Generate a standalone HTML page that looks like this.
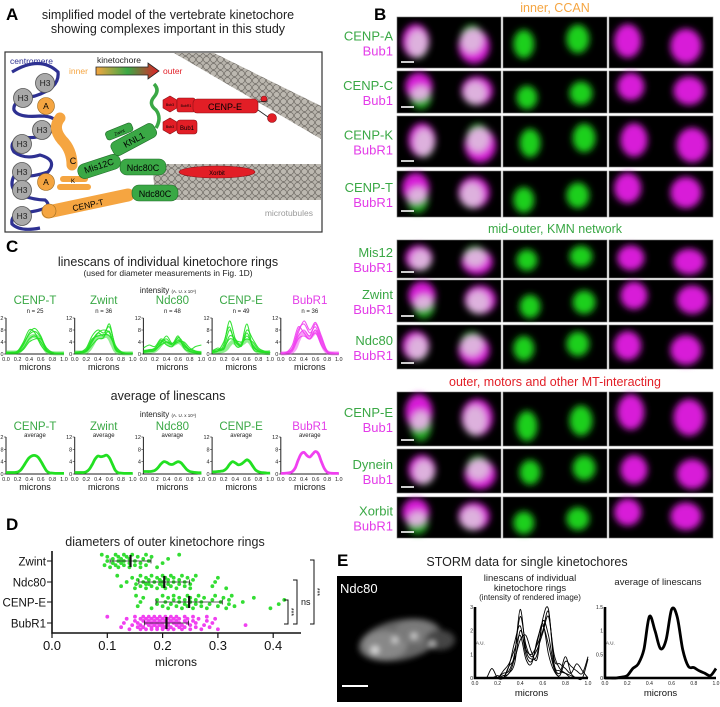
<!DOCTYPE html>
<html><head><meta charset="utf-8">
<style>
html,body{margin:0;padding:0;background:#fff;}
body{width:720px;height:702px;overflow:hidden;font-family:"Liberation Sans",sans-serif;}
svg text{font-family:"Liberation Sans",sans-serif;}
</style></head>
<body>
<svg id="fig" width="720" height="702" viewBox="0 0 720 702" xmlns="http://www.w3.org/2000/svg">
<defs>
  <filter id="blur4" x="-50%" y="-50%" width="200%" height="200%"><feGaussianBlur stdDeviation="3.5"/></filter>
  <filter id="blur3" x="-50%" y="-50%" width="200%" height="200%"><feGaussianBlur stdDeviation="3"/></filter>
  <pattern id="mt" width="7" height="7" patternUnits="userSpaceOnUse">
    <rect width="7" height="7" fill="#b8b4ac"/>
    <circle cx="3.5" cy="3.5" r="3" fill="#bcb8b0" stroke="#6e6a64" stroke-width="0.7"/>
  </pattern>
  <linearGradient id="kgrad" x1="0" x2="1">
    <stop offset="0" stop-color="#f5a541"/><stop offset="0.5" stop-color="#3aa845"/><stop offset="1" stop-color="#e21e26"/>
  </linearGradient>
</defs>

<g>
  <text x="6" y="20" font-size="17" font-weight="bold">A</text>
  <text x="168" y="19" font-size="12.5" text-anchor="middle" fill="#222">simplified model of the vertebrate kinetochore</text>
  <text x="168" y="33" font-size="12.5" text-anchor="middle" fill="#222">showing complexes important in this study</text>
  <rect x="5" y="52" width="317" height="180" fill="#fff" stroke="#333" stroke-width="1.2"/>
  <polygon points="174,53 214,53 321,106 321,139" fill="url(#mt)"/>
  <path d="M155,164 L321,164 L321,200 L160,200 Q150,182 155,164 Z" fill="url(#mt)"/>
  <text x="313" y="216" font-size="8.5" fill="#9a9a9a" text-anchor="end">microtubules</text>
  <text x="10" y="64" font-size="8.5" fill="#2e3192">centromere</text>
  <text x="97" y="63" font-size="8.5" fill="#222">kinetochore</text>
  <text x="69" y="74" font-size="8.5" fill="#f5a541">inner</text>
  <path d="M96,67 L148,67 L148,63 L159,71 L148,79 L148,75 L96,75 Z" fill="url(#kgrad)" stroke="#222" stroke-width="0.8"/>
  <text x="163" y="74" font-size="8.5" fill="#e21e26">outer</text>
  <path d="M12,72 Q40,55 58,72 Q60,88 35,96 Q12,100 14,110 Q18,118 40,116 Q60,116 55,128 Q45,140 20,137 Q8,143 14,152 Q25,160 40,155 Q58,160 48,172 Q30,178 14,176 Q8,188 20,195 Q35,200 45,200 Q55,208 30,212 Q10,212 12,224 Q20,232 40,228" fill="none" stroke="#2e3192" stroke-width="3.2"/>
  <g fill="#a9a9a9" stroke="#555" stroke-width="0.8">
    <circle cx="45" cy="83" r="9.5"/><circle cx="23" cy="98" r="9.5"/><circle cx="42" cy="130" r="9.5"/>
    <circle cx="22" cy="144" r="9.5"/><circle cx="22" cy="172" r="9.5"/><circle cx="22" cy="190" r="9.5"/><circle cx="22" cy="216" r="9.5"/>
  </g>
  <g font-size="8.5" text-anchor="middle" fill="#222">
    <text x="45" y="86">H3</text><text x="23" y="101">H3</text><text x="42" y="133">H3</text>
    <text x="22" y="147">H3</text><text x="22" y="175">H3</text><text x="22" y="193">H3</text><text x="22" y="219">H3</text>
  </g>
  <g fill="#f5a541" stroke="#9a6a20" stroke-width="0.6">
    <circle cx="46" cy="106" r="8.5"/><circle cx="46" cy="182" r="8.5"/>
  </g>
  <text x="46" y="109" font-size="8.5" text-anchor="middle">A</text><text x="46" y="185" font-size="8.5" text-anchor="middle">A</text>
  <path d="M60,118 Q52,128 62,140 Q72,150 72,165" fill="none" stroke="#f5a541" stroke-width="11" stroke-linecap="round"/>
  <text x="73" y="164" font-size="9" text-anchor="middle">C</text>
  <rect x="60" y="176" width="28" height="6" rx="3" fill="#f5a541"/>
  <rect x="57" y="184" width="34" height="6" rx="3" fill="#f5a541"/>
  <text x="73" y="183" font-size="6" text-anchor="middle">K</text>
  <path d="M48,212 L128,195" stroke="#f5a541" stroke-width="13" stroke-linecap="round"/>
  <circle cx="49" cy="211" r="7" fill="#f5a541" stroke="#9a6a20" stroke-width="0.6"/>
  <text x="88" y="208" font-size="8.5" text-anchor="middle" transform="rotate(-12 88 205)">CENP-T</text>
  <rect x="132" y="185" width="46" height="16" rx="7" fill="#3aa845" stroke="#1f6b28" stroke-width="0.6"/>
  <text x="155" y="197" font-size="9" text-anchor="middle">Ndc80C</text>
  <rect x="120" y="159" width="46" height="16" rx="7" fill="#3aa845" stroke="#1f6b28" stroke-width="0.6"/>
  <text x="143" y="171" font-size="9" text-anchor="middle">Ndc80C</text>
  <rect x="77" y="159" width="44" height="15" rx="7" fill="#3aa845" stroke="#1f6b28" stroke-width="0.6" transform="rotate(-18 99 166)"/>
  <text x="99" y="169" font-size="9" text-anchor="middle" transform="rotate(-18 99 166)">Mis12C</text>
  <rect x="110" y="132" width="48" height="15" rx="5" fill="#3aa845" stroke="#1f6b28" stroke-width="0.6" transform="rotate(-28 134 140)"/>
  <text x="134" y="143" font-size="9" text-anchor="middle" transform="rotate(-28 134 140)">KNL1</text>
  <rect x="105" y="127" width="28" height="9" rx="3" fill="#3aa845" stroke="#1f6b28" stroke-width="0.6" transform="rotate(-22 119 131)"/>
  <text x="119" y="134" font-size="4.5" text-anchor="middle" transform="rotate(-22 119 131)">Zwint</text>
  <path d="M154,84 Q160,90 154,97 Q148,104 156,110 Q162,118 156,128" fill="none" stroke="#3aa845" stroke-width="3.5"/>
  <g fill="#e21e26" stroke="#8a1016" stroke-width="0.6">
    <polygon points="163,100 170,96 177,100 177,108 170,112 163,108"/>
    <polygon points="163,122 170,118 177,122 177,130 170,134 163,130"/>
    <rect x="177" y="98" width="18" height="14" rx="2"/>
    <rect x="177" y="120" width="20" height="14" rx="3"/>
    <rect x="193" y="99" width="65" height="14" rx="4"/>
    <circle cx="272" cy="118" r="4.5"/>
    <circle cx="264" cy="99" r="3"/>
  </g>
  <path d="M258,102 L268,101 M258,110 L268,117" stroke="#222" stroke-width="0.8" fill="none"/>
  <g font-size="3.5" text-anchor="middle"><text x="170" y="106">Bub3</text><text x="170" y="128">Bub3</text><text x="186" y="107">BubR1</text></g>
  <text x="187" y="130" font-size="6" text-anchor="middle">Bub1</text>
  <text x="225" y="110" font-size="9" text-anchor="middle">CENP-E</text>
  <ellipse cx="217" cy="172" rx="38" ry="6" fill="#e21e26" stroke="#8a1016" stroke-width="0.6"/>
  <text x="217" y="175" font-size="6" text-anchor="middle">Xorbit</text>
</g>

<g id="panelC">
  <text x="6" y="252" font-size="17" font-weight="bold">C</text>
  <text x="168" y="266" font-size="12.5" text-anchor="middle" fill="#222">linescans of individual kinetochore rings</text>
  <text x="168" y="276" font-size="8.5" text-anchor="middle" fill="#222">(used for diameter measurements in Fig. 1D)</text>
  <text x="168" y="293" font-size="8" text-anchor="middle" fill="#222">intensity <tspan font-size="4.5">(A. U. x 10⁴)</tspan></text>
  <text x="168" y="400" font-size="12.5" text-anchor="middle" fill="#222">average of linescans</text>
  <text x="168" y="417" font-size="8" text-anchor="middle" fill="#222">intensity <tspan font-size="4.5">(A. U. x 10⁴)</tspan></text>
</g>

<g id="panelD">
  <text x="6" y="530" font-size="17" font-weight="bold">D</text>
  <text x="165" y="546" font-size="12.5" text-anchor="middle" fill="#222">diameters of outer kinetochore rings</text>
</g>

<g id="panelB">
  <text x="374" y="20" font-size="17" font-weight="bold">B</text>
  <text x="555" y="12" font-size="12.5" text-anchor="middle" fill="#f5a541">inner, CCAN</text>
  <text x="555" y="233" font-size="12.5" text-anchor="middle" fill="#3aa845">mid-outer, KMN network</text>
  <text x="555" y="386" font-size="12.5" text-anchor="middle" fill="#e21e26">outer, motors and other MT-interacting</text>
</g>

<g id="panelE">
  <text x="337" y="566" font-size="17" font-weight="bold">E</text>
  <text x="527" y="566" font-size="12.5" text-anchor="middle" fill="#222">STORM data for single kinetochores</text>
  <rect x="337" y="576" width="125" height="126" fill="#000"/>
  <g filter="url(#blur3)">
    <ellipse cx="400" cy="640" rx="42" ry="20" fill="#666" transform="rotate(-12 400 640)"/>
    <ellipse cx="385" cy="645" rx="22" ry="14" fill="#888"/>
    <ellipse cx="415" cy="632" rx="20" ry="12" fill="#7a7a7a"/>
    <ellipse cx="440" cy="640" rx="15" ry="10" fill="#444"/>
    <circle cx="375" cy="650" r="4" fill="#ddd"/><circle cx="395" cy="640" r="3" fill="#ddd"/>
    <circle cx="414" cy="636" r="3" fill="#ddd"/><circle cx="432" cy="644" r="3" fill="#ccc"/>
  </g>
  <text x="340" y="593" font-size="13" fill="#fff">Ndc80</text>
  <line x1="342" y1="686" x2="368" y2="686" stroke="#fff" stroke-width="2"/>
  <text x="530" y="581" font-size="9.5" text-anchor="middle" fill="#222">linescans of individual</text>
  <text x="530" y="591" font-size="9.5" text-anchor="middle" fill="#222">kinetochore rings</text>
  <text x="530" y="600" font-size="8" text-anchor="middle" fill="#222">(intensity of rendered image)</text>
  <text x="658" y="585" font-size="9.5" text-anchor="middle" fill="#222">average of linescans</text>
</g>
</svg>

<script>
// ---------- Panel C data ----------
const cNames = ['CENP-T','Zwint','Ndc80','CENP-E','BubR1'];
const cCounts = ['n = 25','n = 36','n = 48','n = 49','n = 36'];
const cYTicks = [0,4,8,12];
const cXTicks = ['0.0','0.2','0.4','0.6','0.8','1.0'];
const cIndivX = [0,0.1,0.2,0.3,0.4,0.5,0.6,0.7,0.8,0.9,1.0];
const cAvgX = [0,0.05,0.1,0.15,0.2,0.25,0.3,0.35,0.4,0.45,0.5,0.55,0.6,0.65,0.7,0.75,0.8,0.85,0.9,0.95,1.0];
const cenpTTraces = [
 [.5,.5,.6,3,7,8.5,6,1.5,.5,.3,.3],[.3,.4,.5,2,5,6,4,1,.4,.2,.2],[.6,.6,1,4,8,7,3,.8,.4,.3,.3],
 [.2,.3,.4,1.5,4,5,5,2,.5,.2,.2],[.4,.5,.8,3.5,6.5,7.5,5.5,1.2,.3,.3,.3]];
const zwintTraces = [
 [.5,.5,1,4,7,8,7,2,.5,.3,.3],[.3,.6,1.5,5,6,6.5,6,2.5,.6,.3,.3],[.5,.7,2,6,8,7,9,3,.8,.3,.3],
 [.4,.4,.8,3,5,5.5,10,2,.4,.3,.3],[.6,.8,1.2,4.5,7,6,7.5,1.5,.5,.3,.3]];
const ndc80Traces = [
 [1,1.2,2,4,5,3,4.5,3,1,.6,.5],[.8,1,1.5,3,4,3.5,5,2.5,1.5,.8,.5],[2,3,2.5,5,4,3,4,4,2,1,.6],
 [.5,.8,1.2,3.5,6,3.5,6,2,.8,.4,.3],[1,1.5,1.8,4.5,3,2.5,5.5,3.5,1.5,2.5,3]];
const cenpETraces = [
 [.8,1,2,8,4,3,6,3,1,.5,.5],[.5,1,3,11,5,2.5,7,2.5,1,.6,.5],[1,1.5,2,5,4.5,4,5,4,1.5,.8,.5],
 [.6,1,4,9,3,3,10,2,.8,.5,.5],[1,2,1.5,6,5,3,8,5,2,1,1]];
const bubR1Traces = [
 [.3,.5,2,8,10,7,9,4,.8,.3,.2],[.2,.4,1.5,6,8,6,10,5,1,.3,.2],[.4,.6,3,9,7,5,8,3,.6,.3,.2],
 [.3,.5,2,7,11,8,10.5,6,1,.4,.3],[.2,.3,1,5,6,5,7,3,.5,.2,.2]];
const cenpTAvg = [.5,.5,.5,.5,.6,1.2,2.5,4,5.3,5.9,6,5.5,4.2,2.5,1,.4,.3,.2,.2,.2,.2];
const zwintAvg = [.5,.5,.5,.5,.7,1.5,3,4.8,5.8,5.6,5.8,6.1,5.2,3.2,1.2,.4,.3,.2,.2,.2,.2];
const ndc80Avg = [.8,.8,.8,.9,1.2,2,3.2,4,3.8,3.2,3.1,3.6,4,3.6,2.5,1.4,.8,.6,.5,.4,.4];
const cenpEAvg = [.7,.7,.8,.9,1.1,1.8,3.1,4,3.6,3,3.2,3.9,4.6,4,2.6,1.3,.7,.5,.4,.3,.3];
const bubR1Avg = [.2,.2,.3,.4,.8,2,4.5,6.5,7,6,5.5,6.5,7.3,6.5,4,1.8,.6,.3,.2,.2,.2];

// ---------- Panel D data ----------
const dCategories = ['Zwint','Ndc80','CENP-E','BubR1'];
const dXTicks = [0.0,0.1,0.2,0.3,0.4];
const zwintDiam = [0.09,0.095,0.10,0.10,0.105,0.11,0.11,0.115,0.115,0.12,0.12,0.12,0.125,0.125,0.13,0.13,0.13,0.135,0.14,0.14,0.14,0.145,0.15,0.15,0.155,0.16,0.16,0.165,0.17,0.17,0.175,0.18,0.19,0.20,0.21,0.23];
const ndc80Diam = [0.118,0.125,0.135,0.145,0.15,0.152,0.155,0.16,0.16,0.165,0.17,0.17,0.175,0.175,0.18,0.18,0.185,0.19,0.19,0.195,0.195,0.2,0.2,0.2,0.205,0.205,0.21,0.21,0.215,0.215,0.22,0.22,0.225,0.23,0.23,0.235,0.24,0.24,0.245,0.25,0.25,0.255,0.26,0.29,0.295,0.30,0.315,0.17];
const cenpEDiam = [0.152,0.155,0.16,0.165,0.18,0.19,0.19,0.2,0.2,0.205,0.21,0.21,0.215,0.22,0.22,0.225,0.23,0.23,0.235,0.24,0.24,0.245,0.245,0.25,0.25,0.255,0.26,0.26,0.265,0.27,0.27,0.275,0.28,0.285,0.29,0.295,0.30,0.305,0.31,0.315,0.32,0.32,0.325,0.33,0.345,0.365,0.395,0.41,0.42];
const bubR1Diam = [0.10,0.125,0.13,0.135,0.14,0.145,0.15,0.15,0.155,0.155,0.16,0.16,0.16,0.165,0.165,0.165,0.17,0.17,0.17,0.175,0.175,0.175,0.18,0.18,0.18,0.18,0.185,0.185,0.185,0.19,0.19,0.19,0.19,0.195,0.195,0.195,0.2,0.2,0.2,0.2,0.2,0.205,0.205,0.205,0.21,0.21,0.21,0.21,0.215,0.215,0.215,0.22,0.22,0.22,0.225,0.225,0.225,0.23,0.23,0.23,0.235,0.235,0.24,0.24,0.24,0.245,0.245,0.25,0.25,0.255,0.255,0.26,0.26,0.265,0.27,0.275,0.28,0.28,0.285,0.29,0.295,0.30,0.35];
const dMeans = [0.142,0.203,0.248,0.207];
const dSD = [0.037,0.046,0.06,0.04];

// ---------- Panel E data ----------
const eX = [0,0.05,0.1,0.15,0.2,0.25,0.3,0.35,0.4,0.45,0.5,0.55,0.6,0.65,0.7,0.75,0.8,0.85,0.9,0.95,1.0];
const eTraces = [
 [0,0,0,0,0,0.1,0.2,0.9,2.9,1.2,0.8,1.0,2.5,2.9,0.6,0.3,0.2,0.1,0,0,0],
 [0,0,0,0.4,0,0,0.5,1.5,2.2,1.0,0.7,1.5,2.3,1.0,0.3,0.1,0.7,0.5,0.3,0.2,0.9],
 [0,0,0,0,0,0.2,0.3,1.0,2.6,1.4,0.9,1.2,1.9,2.6,1.0,0.4,0.2,0,0,0,0],
 [0,0,0,0,0.1,0,0.5,0.8,1.6,1.8,1.1,0.8,2.4,1.8,0.5,0.2,0.9,0.2,0,0,0.8],
 [0,0,0,0,0,0.3,0.6,1.2,1.8,0.8,0.6,1.6,2.2,1.4,0.4,0,0,0,0,0,0],
 [0,0,0,0,0,0,0.2,0.6,2.0,1.2,1.0,1.4,2.0,2.8,0.8,0.6,0.4,0.2,0.6,0.3,0]];
const eAvg = [0,0,0,0.02,0.05,0.2,0.3,0.6,1.3,1.0,0.62,0.8,1.45,1.3,0.6,0.25,0.22,0.15,0.1,0.05,0.2];
const eIndivYTicks = [0,1,2,3];
const eAvgYTicks = [0,0.5,1.0,1.5];
const eXTicks = ['0.0','0.2','0.4','0.6','0.8','1.0'];

// ---------- Panel B data ----------
const bRows = [
 {y:17,h:51,a:'CENP-A',b:'Bub1'},{y:71,h:42,a:'CENP-C',b:'Bub1'},{y:116,h:51,a:'CENP-K',b:'BubR1'},
 {y:171,h:46,a:'CENP-T',b:'BubR1'},{y:240,h:38,a:'Mis12',b:'BubR1'},{y:280,h:42,a:'Zwint',b:'BubR1'},
 {y:325,h:44,a:'Ndc80',b:'BubR1'},{y:392,h:54,a:'CENP-E',b:'Bub1'},{y:449,h:44,a:'Dynein',b:'Bub1'},
 {y:497,h:41,a:'Xorbit',b:'BubR1'}];

const NS='http://www.w3.org/2000/svg';
const fig=document.getElementById('fig');
function mk(tag,attrs,parent){const e=document.createElementNS(NS,tag);for(const k in attrs)e.setAttribute(k,attrs[k]);(parent||fig).appendChild(e);return e;}
function txt(x,y,s,size,attrs,parent){const e=mk('text',Object.assign({x:x,y:y,'font-size':size},attrs||{}),parent);e.textContent=s;return e;}
function smooth(p){let d='M'+p[0][0].toFixed(1)+','+p[0][1].toFixed(1);
 for(let i=0;i<p.length-1;i++){const p0=p[Math.max(0,i-1)],p1=p[i],p2=p[i+1],p3=p[Math.min(p.length-1,i+2)];
  const c1=[p1[0]+(p2[0]-p0[0])/6,p1[1]+(p2[1]-p0[1])/6],c2=[p2[0]-(p3[0]-p1[0])/6,p2[1]-(p3[1]-p1[1])/6];
  d+=' C'+c1[0].toFixed(1)+','+c1[1].toFixed(1)+' '+c2[0].toFixed(1)+','+c2[1].toFixed(1)+' '+p2[0].toFixed(1)+','+p2[1].toFixed(1);}
 return d;}

// ---------- draw Panel C ----------
const GREEN='#22e022', MAG='#f040f0', GTXT='#3aa845', MTXT='#e33ce8';
const cTraceSets=[cenpTTraces,zwintTraces,ndc80Traces,cenpETraces,bubR1Traces];
const cAvgSets=[cenpTAvg,zwintAvg,ndc80Avg,cenpEAvg,bubR1Avg];
const gC=document.getElementById('panelC');
function cAxes(g,x0,base,H){
 const sx=v=>x0+v*58, sy=v=>base-v/12*H;
 const ax=mk('path',{d:'M'+x0+','+(base-H)+' L'+x0+','+base+' L'+(x0+58)+','+base,fill:'none',stroke:'#222','stroke-width':1},g);
 
 
 cYTicks.forEach(t=>{mk('line',{x1:x0-2,x2:x0,y1:sy(t),y2:sy(t),stroke:'#222','stroke-width':0.6},g);
   txt(x0-2.5,sy(t)+2,String(t),5.5,{'text-anchor':'end',fill:'#222'},g);});
 cXTicks.forEach(t=>{txt(sx(parseFloat(t)),base+7,t,5.5,{'text-anchor':'middle',fill:'#222'},g);});
 txt(x0+29,base+16,'microns',9,{'text-anchor':'middle',fill:'#111'},g);
 return {sx,sy};}
for(let i=0;i<5;i++){
 const x0=6+i*68.7, col=i===4?MAG:GREEN, tcol=i===4?MTXT:GTXT;
 const g1=mk('g',{},gC);
 
 
 const lab1=txt(x0+29,304,cNames[i],11.5,{'text-anchor':'middle',fill:tcol},g1);
 
 
 txt(x0+29,313,cCounts[i],6,{'text-anchor':'middle',fill:'#222'},g1);
 const a1=cAxes(g1,x0,354,36);
 const pa=cAvgSets[i].map((v,k)=>[a1.sx(cAvgX[k]),a1.sy(v)]);
 const pb=mk('path',{d:smooth(pa),fill:'none',stroke:col,'stroke-width':4,opacity:0.5},g1);
 
 
 cTraceSets[i].forEach(tr=>{
  const pts=tr.map((v,k)=>[a1.sx(cIndivX[k]),a1.sy(v)]);
  const p=mk('path',{d:smooth(pts),fill:'none',stroke:col,'stroke-width':1.1,opacity:0.9},g1);
  
  
 });
 const g2=mk('g',{},gC);
 
 
 const lab2=txt(x0+29,430,cNames[i],11.5,{'text-anchor':'middle',fill:tcol},g2);
 
 
 txt(x0+29,437,'average',6,{'text-anchor':'middle',fill:'#222'},g2);
 const a2=cAxes(g2,x0,474,37);
 const pts2=cAvgSets[i].map((v,k)=>[a2.sx(cAvgX[k]),a2.sy(v)]);
 const avg=mk('path',{d:smooth(pts2),fill:'none',stroke:col,'stroke-width':2.8,'stroke-linejoin':'round'},g2);
 
 
}

// ---------- draw Panel D ----------
const gD=document.getElementById('panelD');
const dX=v=>52+v*553, dRowY=[561,582,602,623];
const dSets=[zwintDiam,ndc80Diam,cenpEDiam,bubR1Diam];
dSets.forEach((arr,r)=>{
 const g=mk('g',{},gD);
 
 
 const col=r===3?'#f040f0':'#33dd33';
 arr.forEach((v,k)=>{
  const off=((k*5)%7-3)*2.1;
  const c=mk('circle',{cx:dX(v),cy:dRowY[r]+off,r:1.9,fill:col},g);
  
  
 });
 const m=dMeans[r], s=dSD[r];
 const eb=mk('path',{d:'M'+dX(m-s)+','+dRowY[r]+' L'+dX(m+s)+','+dRowY[r]+' M'+dX(m-s)+','+(dRowY[r]-2.5)+' L'+dX(m-s)+','+(dRowY[r]+2.5)+' M'+dX(m+s)+','+(dRowY[r]-2.5)+' L'+dX(m+s)+','+(dRowY[r]+2.5),stroke:'#222','stroke-width':0.8,fill:'none'},g);
 
 
 const ml=mk('line',{x1:dX(m),x2:dX(m),y1:dRowY[r]-6,y2:dRowY[r]+6,stroke:'#111','stroke-width':2.2},g);
 
 
 mk('line',{x1:47,x2:52,y1:dRowY[r],y2:dRowY[r],stroke:'#111','stroke-width':1},gD);
 const yl=txt(46,dRowY[r]+4.5,dCategories[r],11.5,{'text-anchor':'end',fill:'#111'},gD);
 
 
});
const dax=mk('path',{d:'M52,551 L52,633 L301,633',fill:'none',stroke:'#111','stroke-width':1.6},gD);


dXTicks.forEach(t=>{mk('line',{x1:dX(t),x2:dX(t),y1:633,y2:638,stroke:'#111','stroke-width':1.2},gD);
 const l=txt(dX(t),650,t.toFixed(1),13,{'text-anchor':'middle',fill:'#111'},gD);
 
 });
const dxt=txt(176,666,'microns',12,{'text-anchor':'middle',fill:'#111'},gD);


function bracket(x,y1,y2,label,size){
 const b=mk('path',{d:'M'+(x-4)+','+y1+' L'+x+','+y1+' L'+x+','+y2+' L'+(x-4)+','+y2,fill:'none',stroke:'#111','stroke-width':1},gD);
 
 
 const attrs={fill:'#111','text-anchor':label==='ns'?'start':'middle'};
 if(label!=='ns') attrs.transform='rotate(90 '+(x+4)+' '+((y1+y2)/2)+')';
 txt(x+4,(y1+y2)/2+3,label,size,attrs,gD);}
bracket(288,600,624,'***',7);
bracket(297,580,624,'ns',9);
bracket(314,560,624,'***',7);

// ---------- draw Panel E ----------
const gE=document.getElementById('panelE');
function eAxes(x0,x1,base,top,ticks,max){
 const sx=v=>x0+v*(x1-x0), sy=v=>base-v/max*(base-top);
 const a=mk('path',{d:'M'+x0+','+top+' L'+x0+','+base+' L'+x1+','+base,fill:'none',stroke:'#000','stroke-width':2.6},gE);
 
 
 ticks.forEach(t=>{txt(x0-2,sy(t)+2,String(t),5,{'text-anchor':'end',fill:'#222'},gE);});
 eXTicks.forEach(t=>txt(sx(parseFloat(t)),base+7,t,5,{'text-anchor':'middle',fill:'#222'},gE));
 txt((x0+x1)/2,base+18,'microns',9.5,{'text-anchor':'middle',fill:'#111'},gE);
 txt(x0+1,base-(base-top)/2+2,'A.U.',4.5,{fill:'#222'},gE);
 return {sx,sy};}
const e1=eAxes(475,588,678,607,eIndivYTicks,3);
eTraces.forEach(tr=>{
 const p=mk('path',{d:smooth(tr.map((v,k)=>[e1.sx(eX[k]),e1.sy(v)])),fill:'none',stroke:'#000','stroke-width':0.9},gE);
 
 
});
const e2=eAxes(605,716,678,607,eAvgYTicks,1.5);
const ea=mk('path',{d:smooth(eAvg.map((v,k)=>[e2.sx(eX[k]),e2.sy(v)])),fill:'none',stroke:'#000','stroke-width':2.8,'stroke-linejoin':'round'},gE);



// ---------- draw Panel B ----------
const gB=document.getElementById('panelB');
const colX=[397,503,609], tileW=104;
const blobG=[[.2,.58,.1,.28],[.72,.48,.11,.28]];
const blobM=[[.18,.42,.13,.33],[.74,.52,.15,.34]];
bRows.forEach((r,ri)=>{
 const t1=txt(393,r.y+r.h/2-2,r.a,13,{'text-anchor':'end',fill:GTXT},gB);
 
 
 const t2=txt(393,r.y+r.h/2+13,r.b,13,{'text-anchor':'end',fill:MTXT},gB);
 
 
 for(let c=0;c<3;c++){
  const x=colX[c];
  const g=mk('g',{},gB);
  
  
  mk('rect',{x:x,y:r.y,width:tileW,height:r.h,fill:'#000',stroke:'#777','stroke-width':0.6},g);
  const inner=mk('g',{filter:'url(#blur4)'},g);
  const jig=(ri%3)*0.03, dy=((ri%2)*2-1)*0.05;
  if(c!==1) blobM.forEach(b=>mk('ellipse',{cx:x+(b[0]+jig)*tileW,cy:r.y+(b[1]-dy)*r.h,rx:b[2]*tileW,ry:b[3]*r.h,fill:'#d81ad8'},inner));
  if(c!==2) blobG.forEach(b=>{const e=mk('ellipse',{cx:x+(b[0]+jig)*tileW,cy:r.y+(b[1]+dy)*r.h,rx:b[2]*tileW,ry:b[3]*r.h,fill:c===0?'#22a822':'#1ed01e'},inner); if(c===0)e.setAttribute('style','mix-blend-mode:screen');});
  if(c===0){const sb=mk('line',{x1:x+4,x2:x+17,y1:r.y+r.h-6,y2:r.y+r.h-6,stroke:'#fff','stroke-width':1.6},g);
   
   }
 }
});
</script>
</body></html>
